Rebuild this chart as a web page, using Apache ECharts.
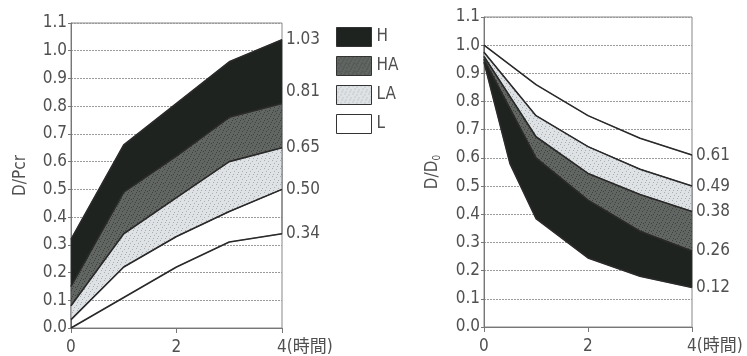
<!DOCTYPE html>
<html>
<head>
<meta charset="utf-8">
<script src="https://cdn.jsdelivr.net/npm/echarts@6/dist/echarts.min.js"></script>
<style>
html,body{margin:0;padding:0;background:#fff;}
#c{width:747px;height:356px;}
</style>
</head>
<body>
<div id="c"></div>
<script>
// ---- data ----
const hours = [0, 1, 2, 3, 4];
const xTicks = [0, 2, 4];
const yTicks = [0.0, 0.1, 0.2, 0.3, 0.4, 0.5, 0.6, 0.7, 0.8, 0.9, 1.0, 1.1];
const bandNames = ['H', 'HA', 'LA', 'L'];

// Left chart: D/Pcr (band boundaries, top to bottom)
const leftHTop  = [0.32, 0.66, 0.81, 0.96, 1.04];
const leftHATop = [0.15, 0.49, 0.62, 0.76, 0.81];
const leftLATop = [0.08, 0.34, 0.47, 0.60, 0.65];
const leftLTop  = [0.03, 0.22, 0.33, 0.42, 0.50];
const leftBase  = [0.00, 0.11, 0.22, 0.31, 0.34];
const leftEndLabels = ['1.03', '0.81', '0.65', '0.50', '0.34'];

// Right chart: D/D0 (band boundaries, top to bottom)
const rightLTop  = [1.00, 0.86, 0.75, 0.67, 0.61];
const rightLATop = [0.975, 0.75, 0.64, 0.56, 0.50];
const rightHATop = [0.96, 0.675, 0.545, 0.47, 0.41];
const rightHTop  = [0.95, 0.60, 0.45, 0.34, 0.27];
const rightBaseHours = [0, 0.5, 1, 2, 3, 4];
const rightBase  = [0.94, 0.58, 0.385, 0.245, 0.18, 0.14];
const rightEndLabels = ['0.61', '0.49', '0.38', '0.26', '0.12'];

// ---- styles ----
const FONT = "'DejaVu Sans Condensed','Liberation Sans Narrow','Liberation Sans','Noto Sans CJK JP',sans-serif";
const TXT = '#505050';

function makePattern(bg, dot, step) {
  const cv = document.createElement('canvas');
  cv.width = 8; cv.height = 8;
  const g = cv.getContext('2d');
  g.fillStyle = bg; g.fillRect(0, 0, 8, 8);
  g.fillStyle = dot;
  const pts = [[0,0],[4,1],[2,3],[6,4],[1,6],[5,6],[3,7],[7,2]];
  pts.slice(0, step).forEach(p => g.fillRect(p[0], p[1], 1, 1));
  return {image: cv, repeat: 'repeat'};
}
const fills = {
  H: '#1f231f',
  HA: makePattern('#626662', '#3e423e', 8),
  LA: makePattern('#dfe2e5', '#a9aeb2', 6),
  L: 'rgba(255,255,255,0)'
};
const legendFills = {H: '#1f231f', HA: fills.HA, LA: fills.LA, L: '#ffffff'};

function band(name, gi, upX, upY, loX, loY) {
  return {
    type: 'custom', name: name, xAxisIndex: gi, yAxisIndex: gi, z: 1, silent: true,
    data: [[0, 0]],
    renderItem: function (params, api) {
      const pts = [];
      for (let i = 0; i < upX.length; i++) pts.push(api.coord([upX[i], upY[i]]));
      for (let i = loX.length - 1; i >= 0; i--) pts.push(api.coord([loX[i], loY[i]]));
      return {type: 'polygon', shape: {points: pts},
        style: {fill: fills[name], stroke: '#333', lineWidth: 0.6}};
    }
  };
}

function line(gi, xs, ys, lbl, off) {
  return {
    type: 'line', xAxisIndex: gi, yAxisIndex: gi, z: 3, silent: true,
    symbol: 'none', animation: false,
    data: xs.map((x, i) => [x, ys[i]]),
    lineStyle: {color: '#2a2a2a', width: 1.6},
    endLabel: {show: true, formatter: lbl, distance: 4, offset: off || [0, 0],
      fontFamily: FONT, fontSize: 17, color: TXT}
  };
}

function xAxis(gi) {
  return {
    type: 'value', gridIndex: gi, min: 0, max: 4, interval: 2,
    axisLine: {lineStyle: {color: '#777'}},
    axisTick: {show: true, length: 5, lineStyle: {color: '#777'}},
    splitLine: {show: false},
    axisLabel: {fontFamily: FONT, fontSize: 17, color: TXT, margin: 11, align: 'left', padding: [0, 0, 0, -5],
      formatter: v => xTicks.indexOf(v) === xTicks.length - 1 ? v + '(時間)' : String(v)}
  };
}

function yAxis(gi, name) {
  return {
    type: 'value', gridIndex: gi, min: 0, max: 1.1, interval: 0.1,
    name: name, nameLocation: 'middle', nameGap: 42,
    nameTextStyle: {fontFamily: FONT, fontSize: 17, color: TXT,
      rich: {s: {fontFamily: FONT, fontSize: 10, color: TXT, verticalAlign: 'bottom', padding: [8, 0, 0, 0]}}},
    axisLine: {show: true, lineStyle: {color: '#777'}},
    axisTick: {show: true, length: 3, lineStyle: {color: '#777'}},
    splitLine: {show: true, lineStyle: {color: '#9a9a9a', type: [2, 1], width: 1}},
    axisLabel: {fontFamily: FONT, fontSize: 17, color: TXT, margin: 4,
      formatter: v => yTicks.find(t => Math.abs(t - v) < 1e-6).toFixed(1)}
  };
}

const chart = echarts.init(document.getElementById('c'), null, {renderer: 'canvas'});
chart.setOption({
  animation: false,
  backgroundColor: '#fff',
  grid: [
    {left: 71, top: 23, width: 211, height: 308, show: true, borderColor: '#888', borderWidth: 1},
    {left: 484, top: 17, width: 208, height: 310, show: true, borderColor: '#888', borderWidth: 1}
  ],
  legend: {
    orient: 'vertical', left: 331, top: 22, itemWidth: 35, itemHeight: 19, itemGap: 9,
    icon: 'rect', selectedMode: false,
    textStyle: {fontFamily: FONT, fontSize: 17, color: TXT, padding: [0, 0, 0, 0]},
    data: [
      {name: 'H', itemStyle: {color: legendFills.H, borderColor: '#333', borderWidth: 1}},
      {name: 'HA', itemStyle: {color: legendFills.HA, borderColor: '#333', borderWidth: 1}},
      {name: 'LA', itemStyle: {color: legendFills.LA, borderColor: '#333', borderWidth: 1}},
      {name: 'L', itemStyle: {color: legendFills.L, borderColor: '#333', borderWidth: 1}}
    ]
  },
  xAxis: [xAxis(0), xAxis(1)],
  yAxis: [yAxis(0, 'D/Pcr'), yAxis(1, 'D/D{s|0}')],
  series: [
    // left bands
    band('H', 0, hours, leftHTop, hours, leftHATop),
    band('HA', 0, hours, leftHATop, hours, leftLATop),
    band('LA', 0, hours, leftLATop, hours, leftLTop),
    band('L', 0, hours, leftLTop, hours, leftBase),
    // left lines
    line(0, hours, leftHTop, leftEndLabels[0]),
    line(0, hours, leftHATop, leftEndLabels[1], [0, -12]),
    line(0, hours, leftLATop, leftEndLabels[2]),
    line(0, hours, leftLTop, leftEndLabels[3]),
    line(0, hours, leftBase, leftEndLabels[4]),
    // right bands
    band('L', 1, hours, rightLTop, hours, rightLATop),
    band('LA', 1, hours, rightLATop, hours, rightHATop),
    band('HA', 1, hours, rightHATop, hours, rightHTop),
    band('H', 1, hours, rightHTop, rightBaseHours, rightBase),
    // right lines
    line(1, hours, rightLTop, rightEndLabels[0]),
    line(1, hours, rightLATop, rightEndLabels[1]),
    line(1, hours, rightHATop, rightEndLabels[2]),
    line(1, hours, rightHTop, rightEndLabels[3]),
    line(1, rightBaseHours, rightBase, rightEndLabels[4])
  ]
});
</script>
</body>
</html>
